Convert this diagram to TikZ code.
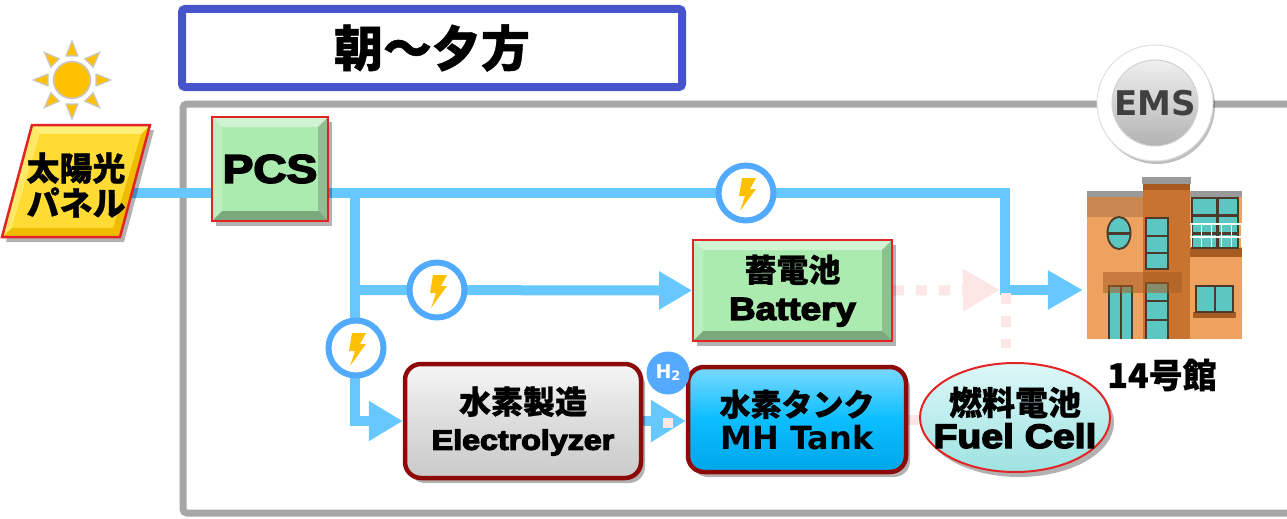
\documentclass[tikz,border=0pt]{standalone}
\usepackage{fontspec}
\usepackage{graphicx}
\newfontfamily\jp{Noto Sans CJK JP}[BoldFeatures={FakeBold=0.8}]
\newfontfamily\latinheavy{Liberation Sans}[BoldFeatures={FakeBold=4}]
\newfontfamily\dvs{DejaVu Sans}
\usetikzlibrary{arrows.meta,shadows,shapes.geometric,calc}
\pgfdeclarelayer{back}
\pgfsetlayers{back,main}

\definecolor{flowc}{HTML}{66C8FF}
\definecolor{ringc}{HTML}{52AAFF}
\definecolor{ghostc}{HTML}{FCE6E6}
\definecolor{sungold}{HTML}{FFC000}
\definecolor{boxgreen}{HTML}{ABEBB0}
\definecolor{edgered}{HTML}{E32424}
\definecolor{darkred}{HTML}{8E0A0A}
\definecolor{tankblue}{HTML}{0BBEFF}
\definecolor{tanktop}{HTML}{7AD9FF}
\definecolor{tankbot}{HTML}{00A6E8}
\definecolor{electop}{HTML}{F6F6F6}
\definecolor{elecmid}{HTML}{DDDDDD}
\definecolor{elecbot}{HTML}{CACACA}
\definecolor{fctop}{HTML}{DDF8F8}
\definecolor{fcbot}{HTML}{9EE2E2}
\definecolor{framec}{HTML}{A6A6A6}
\definecolor{titleblue}{HTML}{4655CC}
\definecolor{h2blue}{HTML}{55AAFF}
\definecolor{paneldark}{HTML}{F0BC00}
\definecolor{panellight}{HTML}{FFF07A}
\definecolor{panelside}{HTML}{FFE866}
\definecolor{panelface}{HTML}{FFDB33}
% building palette
\definecolor{walltan}{HTML}{EDA35F}
\definecolor{walltanD}{HTML}{C98852}
\definecolor{towerc}{HTML}{C8732F}
\definecolor{towerD}{HTML}{A85A1E}
\definecolor{roofc}{HTML}{9A9A9A}
\definecolor{glassc}{HTML}{5CC6C0}
\definecolor{framebr}{HTML}{4E3A2A}
\definecolor{bandbr}{HTML}{A95C22}

% wide heavy latin lettering
\newcommand\heavy[2]{{\latinheavy\bfseries\fontsize{#1}{#1}\selectfont\scalebox{1.15}[1]{#2}}}

\tikzset{
  flow/.style={draw=flowc, line width=10pt, line join=miter},
  flowarrow/.style={flow, -{Triangle[length=34pt,width=38pt]}},
  ghost/.style={draw=ghostc, line width=10pt, dash pattern=on 11pt off 12pt},
  softshadow/.style={drop shadow={shadow xshift=4pt, shadow yshift=-5pt, opacity=.3, fill=black}},
  bevel/.style={path picture={
    \fill[white,opacity=.45] (path picture bounding box.north west) -- (path picture bounding box.north east)
      -- ([shift={(-#1,-#1)}]path picture bounding box.north east) -- ([shift={(#1,-#1)}]path picture bounding box.north west) -- cycle;
    \fill[white,opacity=.2] (path picture bounding box.north west) -- (path picture bounding box.south west)
      -- ([shift={(#1,#1)}]path picture bounding box.south west) -- ([shift={(#1,-#1)}]path picture bounding box.north west) -- cycle;
    \fill[black,opacity=.18] (path picture bounding box.north east) -- (path picture bounding box.south east)
      -- ([shift={(-#1,#1)}]path picture bounding box.south east) -- ([shift={(-#1,-#1)}]path picture bounding box.north east) -- cycle;
    \fill[black,opacity=.28] (path picture bounding box.south west) -- (path picture bounding box.south east)
      -- ([shift={(-#1,#1)}]path picture bounding box.south east) -- ([shift={(#1,#1)}]path picture bounding box.south west) -- cycle;
  }},
  greenbox/.style={rectangle, fill=boxgreen, draw=edgered, line width=1.6pt, inner sep=0,
    bevel=10pt, softshadow, align=center},
  glossbox/.style={rectangle, rounded corners=16pt, draw=darkred, line width=4.5pt, inner sep=0,
    softshadow, align=center},
  boltring/.style={circle, draw=ringc, line width=6pt, fill=white, minimum size=55, inner sep=0,
    path picture={\begin{scope}[shift={(path picture bounding box.center)}]
      \fill[sungold] (-4pt,15pt) -- (10pt,15pt) -- (4pt,4pt) -- (10pt,4pt) -- (-6pt,-18pt) -- (-1pt,-3pt) -- (-7pt,-3pt) -- cycle;
    \end{scope}}},
  jpfont/.style={font=\jp\bfseries\fontsize{#1}{#1}\selectfont},
}

\begin{document}
\begin{tikzpicture}[x=1pt,y=-1pt]
\useasboundingbox (0,0) rectangle (1287,519);

% ---------- title ----------
\node[draw=titleblue, line width=8pt, rounded corners=3pt, fill=white, minimum width=500, minimum height=78,
  inner sep=0, font=\jp\bfseries\fontsize{49}{49}\selectfont] (title) at (432,48) {朝～夕方};

% ---------- sun ----------
\coordinate (sunpos) at (72,80);
\foreach \a in {0,45,...,315}
  \filldraw[fill=sungold, draw=black!22, line width=1.2pt]
    ($(sunpos)+(\a:24)+(\a+90:6)$) -- ($(sunpos)+(\a:39)$) -- ($(sunpos)+(\a:24)+(\a-90:6)$) -- cycle;
\node[circle, minimum size=37, inner sep=0, fill=sungold, draw=black!22, line width=1.5pt] (sun) at (sunpos) {};

% ---------- solar panel ----------
\fill[black,opacity=.3] (36,130) -- (154,130) -- (124,242) -- (6,242) -- cycle;
\fill[paneldark] (32,125) -- (150,125) -- (120,237) -- (2,237) -- cycle;
\fill[panellight] (32,125) -- (150,125) -- (141,134) -- (40,134) -- cycle;
\fill[panelside] (32,125) -- (40,134) -- (12,228) -- (2,237) -- cycle;
\fill[panelface] (40,134) -- (141,134) -- (113,228) -- (12,228) -- cycle;
\draw[edgered, line width=2.5pt, line join=miter] (32,125) -- (150,125) -- (120,237) -- (2,237) -- cycle;
\node[jpfont=33, align=center, inner sep=0] (panel) at (76,185) {太陽光\\[2pt]パネル};
\coordinate (panelR) at (132,193);

% ---------- power conditioner, storage, hydrogen chain ----------
\node[greenbox, minimum width=116, minimum height=104] (pcs) at (270,169) {\heavy{40}{PCS}};
\node[greenbox, minimum width=199, minimum height=101, jpfont=32] (batt) at (792.5,290.5)
  {蓄電池\\[6pt]\heavy{32}{Battery}};
\node[glossbox, minimum width=236, minimum height=114, top color=electop, bottom color=elecbot,
  middle color=elecmid, jpfont=32] (elec) at (523,421) {水素製造\\[4pt]\heavy{28}{Electrolyzer}};
\node[glossbox, minimum width=218, minimum height=105, top color=tanktop, bottom color=tankbot,
  middle color=tankblue, jpfont=31] (tank) at (797,419.5)
  {水素タンク\\[2pt]{\dvs\bfseries\fontsize{32}{32}\selectfont MH Tank}};
\node[ellipse, minimum width=190, minimum height=109, inner sep=0, top color=fctop, bottom color=fcbot,
  draw=edgered, line width=2pt, softshadow] (fc) at (1015,417.5) {};
\node[align=center, jpfont=33, inner sep=0] (fctext) at (fc.center) {燃料電池\\[0pt]\heavy{34}{Fuel Cell}};
\node[circle, fill=h2blue, minimum size=43, inner sep=0, text=white,
  font=\dvs\bfseries\fontsize{19}{19}\selectfont] (h2) at (668,373) {H\raisebox{-2pt}{\fontsize{13}{13}\selectfont 2}};

% ---------- EMS ----------
\node[circle, minimum size=116, inner sep=0, fill=white, draw=black!12, line width=1pt,
  drop shadow={shadow xshift=2pt, shadow yshift=-3pt, opacity=.25, fill=black}] (emsring) at (1155,103) {};
\node[circle, minimum size=86, inner sep=0, top color=black!6, bottom color=black!30, draw=black!18,
  line width=1pt, text=black!75, font=\dvs\bfseries\fontsize{34}{34}\selectfont] (ems) at (emsring.center) {EMS};

% ---------- building ----------
\node[minimum width=156, minimum height=162, inner sep=0] (bldg) at (1165,258) {};
\fill[walltan] (1087,197) rectangle (1143,339);
\fill[walltanD] (1087,197) rectangle (1143,217);
\fill[roofc] (1087,191) rectangle (1143,197);
\fill[walltan] (1190,197) rectangle (1242,339);
\fill[roofc] (1190,191) rectangle (1242,197);
\fill[bandbr] (1190,248) rectangle (1242,257);
% upper right glazing with balcony rail
\fill[framebr] (1191,197) rectangle (1239,249);
\fill[glassc] (1193,199) rectangle (1215.5,214);
\fill[glassc] (1218.5,199) rectangle (1237,214);
\fill[glassc] (1193,217) rectangle (1215.5,232);
\fill[glassc] (1218.5,217) rectangle (1237,232);
\fill[glassc] (1193,235) rectangle (1215.5,247);
\fill[glassc] (1218.5,235) rectangle (1237,247);
\draw[white, line width=1.2pt] (1190,224) -- (1242,224) (1190,237) -- (1242,237);
\foreach \xx in {1191,1201,1211,1221,1231,1241}
  \draw[white, line width=1pt] (\xx,224) -- (\xx,247);
% lower right window
\fill[bandbr] (1193,312) rectangle (1236,318);
\fill[framebr] (1195,285) rectangle (1234,313);
\fill[glassc] (1197,287) rectangle (1213.5,311);
\fill[glassc] (1215.5,287) rectangle (1232,311);
% central tower
\fill[towerc] (1143,183) rectangle (1190,339);
\fill[towerD] (1143,183) rectangle (1190,190);
\fill[roofc] (1142,177) rectangle (1191,184);
\fill[framebr] (1145,217) rectangle (1169,270);
\fill[glassc] (1147,219) rectangle (1167,235);
\fill[glassc] (1147,237) rectangle (1167,252);
\fill[glassc] (1147,254) rectangle (1167,268);
\fill[framebr] (1145,282) rectangle (1169,339);
\fill[glassc] (1147,284) rectangle (1167,300);
\fill[glassc] (1147,302) rectangle (1167,319);
\fill[glassc] (1147,321) rectangle (1167,339);
% oval window
\fill[framebr] (1119,233) ellipse [x radius=12.5, y radius=17];
\fill[glassc] (1119,233) ellipse [x radius=10.5, y radius=15];
\fill[framebr] (1107,231.5) rectangle (1131,234.5);
% door
\fill[framebr] (1108,285) rectangle (1133,339);
\fill[glassc] (1110,287) rectangle (1119.5,339);
\fill[glassc] (1121.5,287) rectangle (1131,339);
% canopy
\fill[bandbr, opacity=.55] (1103,272) rectangle (1182,293);
\node[jpfont=34, inner sep=0] (bldglabel) at (1162,375) {14号館};

% ---------- energy flow markers ----------
\coordinate (jTop) at (355,193);
\coordinate (jMid) at (355,290);
\coordinate (bendA) at (1005,193);
\coordinate (bendB) at (1005,290);
\coordinate (ghostTip) at (1000,290);
\coordinate (ghostA) at (1006,293);
\coordinate (ghostB) at (1006,348);
\node[boltring] (bolt1) at (746,193) {};
\node[boltring] (bolt2) at (437,290) {};
\node[boltring] (bolt3) at (356,348) {};

% ---------- frame and connectors (underneath) ----------
\begin{pgfonlayer}{back}
\fill[white] (0,0) rectangle (1287,519);
\draw[framec, line width=7pt, rounded corners=4pt] (1287,104) -- (183,104) -- (183,513) -- (1287,513);
\draw[flowarrow, -{Triangle[length=35pt,width=37pt]}, shorten >=4pt]
  (panelR) -- (bendA) -- (bendB) -- (bendB -| bldg.west);
\draw[flowarrow] (jTop) |- (elec.west);
\draw[flowarrow, -{Triangle[length=33pt,width=36pt]}] (jMid) -- (batt.west);
\draw[flowarrow, -{Triangle[length=35pt,width=40pt]}] (elec.east) -- (elec.east -| tank.west);
\fill[ghostc] (663,418) rectangle (673,428);
\draw[ghost, -{Triangle[length=37pt,width=40pt]}] (batt.east) -- (ghostTip);
\draw[ghost, dash pattern=on 11pt off 12pt] (ghostA) -- (ghostB);
\draw[ghostc, line width=10pt] (tank.east) -- (tank.east -| fc.west);
\end{pgfonlayer}
\end{tikzpicture}
\end{document}
